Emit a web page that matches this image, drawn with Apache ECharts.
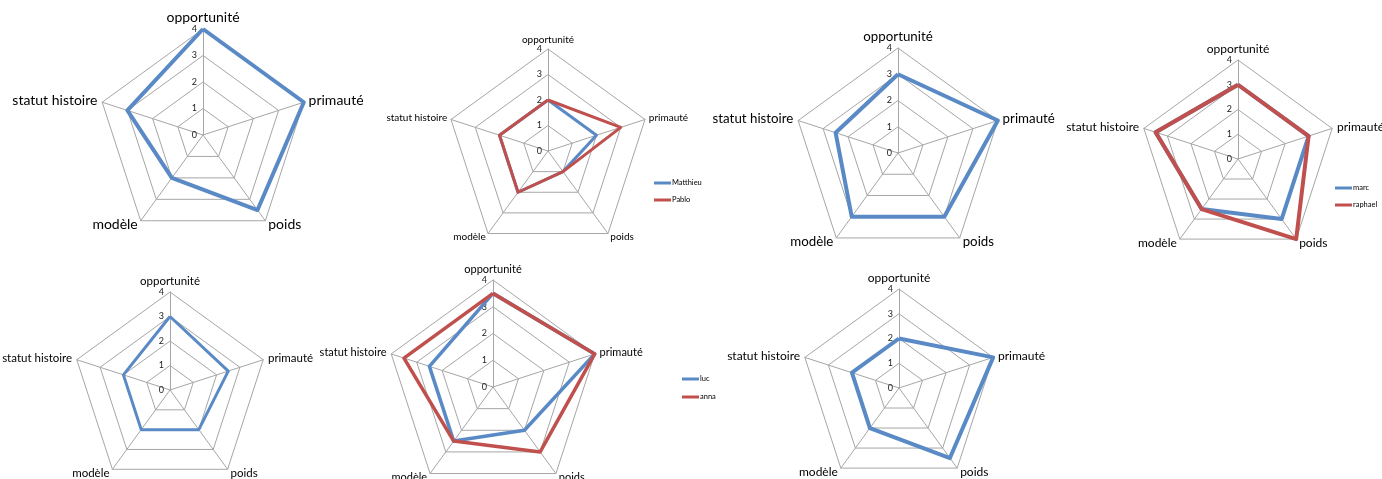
<!DOCTYPE html>
<html>
<head>
<meta charset="utf-8">
<script src="https://cdn.jsdelivr.net/npm/echarts@6/dist/echarts.min.js"></script>
<style>
  html, body { margin: 0; padding: 0; background: #fff; }
  #chart { width: 1382px; height: 479px; }
</style>
</head>
<body>
<div id="chart"></div>
<script>
// axes in clockwise order, as in the workbook
const categories = ['opportunité', 'primauté', 'poids', 'modèle', 'statut histoire'];
const scaleMax = 4;

// one array per person / sheet (same order as categories)
const chart1 = [4, 4, 3.5, 2, 3];
const matthieu = [2, 2, 1, 2, 2];
const pablo = [2, 3, 1, 2, 2];
const chart3 = [3, 4, 3, 3, 2.5];
const marc = [3, 3, 3, 2.5, 3.5];
const raphael = [3, 3, 4, 2.5, 3.5];
const chart5 = [3, 2.5, 2, 2, 2];
const luc = [3.5, 4, 2, 2.5, 2.5];
const anna = [3.5, 4, 3, 2.5, 3.5];
const chart7 = [2, 4, 3.5, 2, 2];

const BLUE = '#5a8ac6';
const RED = '#c0504d';
const FONT = 'Lato, "Noto Sans", sans-serif';

// echarts radar runs counter-clockwise, so flip the tail to keep the clockwise order
const ccw = arr => [arr[0]].concat(arr.slice(1).reverse());

const panels = [
    {center: [203, 135], radius: 106, nameSize: 14, gap: 5, width: 4, series: [['série A', chart1, BLUE]]},
    {center: [548, 151], radius: 102, nameSize: 10, gap: 4, width: 3, series: [['Matthieu', matthieu, BLUE], ['Pablo', pablo, RED]]},
    {center: [898, 153], radius: 105, nameSize: 13.3, gap: 5, width: 4, series: [['série B', chart3, BLUE]]},
    {center: [1238, 159], radius: 99, nameSize: 12, gap: 5, width: 4, series: [['marc', marc, BLUE], ['raphael', raphael, RED]]},
    {center: [170, 390], radius: 98, nameSize: 11.5, gap: 5, width: 3, series: [['série C', chart5, BLUE]]},
    {center: [493, 387], radius: 107, nameSize: 11, gap: 5, width: 3.5, series: [['luc', luc, BLUE], ['anna', anna, RED]]},
    {center: [899, 388], radius: 99, nameSize: 12, gap: 5, width: 4, series: [['série D', chart7, BLUE]]}
];

const radar = panels.map(p => ({
    center: p.center,
    radius: p.radius,
    shape: 'polygon',
    splitNumber: 4,
    nameGap: p.gap,
    indicator: ccw(categories).map((name, i) => ({
        name: name,
        min: 0,
        max: scaleMax,
        axisLabel: {show: i === 0}
    })),
    axisName: {color: '#000', fontSize: p.nameSize, fontFamily: FONT},
    axisLine: {lineStyle: {color: '#a6a6a6', width: 1}},
    splitLine: {lineStyle: {color: '#a6a6a6', width: 1}},
    splitArea: {show: false},
    axisTick: {show: false},
    axisLabel: {show: false, color: '#222', fontSize: 9, fontFamily: FONT, margin: 6}
}));

const series = [];
panels.forEach((p, idx) => {
    p.series.forEach(([name, values, color]) => {
        series.push({
            type: 'radar',
            radarIndex: idx,
            name: name,
            symbol: 'none',
            silent: true,
            lineStyle: {color: color, width: p.width},
            itemStyle: {color: color},
            data: [{value: ccw(values), name: name}]
        });
    });
});

const legendBase = {
    orient: 'vertical',
    icon: 'rect',
    padding: 0,
    itemWidth: 17,
    itemHeight: 3,
    itemGap: 9,
    selectedMode: false,
    textStyle: {fontSize: 7.5, color: '#000', fontFamily: FONT, padding: [0, 0, 0, -4]}
};

const chart = echarts.init(document.getElementById('chart'));
chart.setOption({
    backgroundColor: '#fff',
    animation: false,
    radar: radar,
    legend: [
        Object.assign({left: 654, top: 179, data: ['Matthieu', 'Pablo']}, legendBase),
        Object.assign({left: 1335, top: 184, data: ['marc', 'raphael']}, legendBase),
        Object.assign({left: 682, top: 375, data: ['luc', 'anna']}, legendBase, {itemGap: 10})
    ],
    series: series
});
</script>
</body>
</html>
